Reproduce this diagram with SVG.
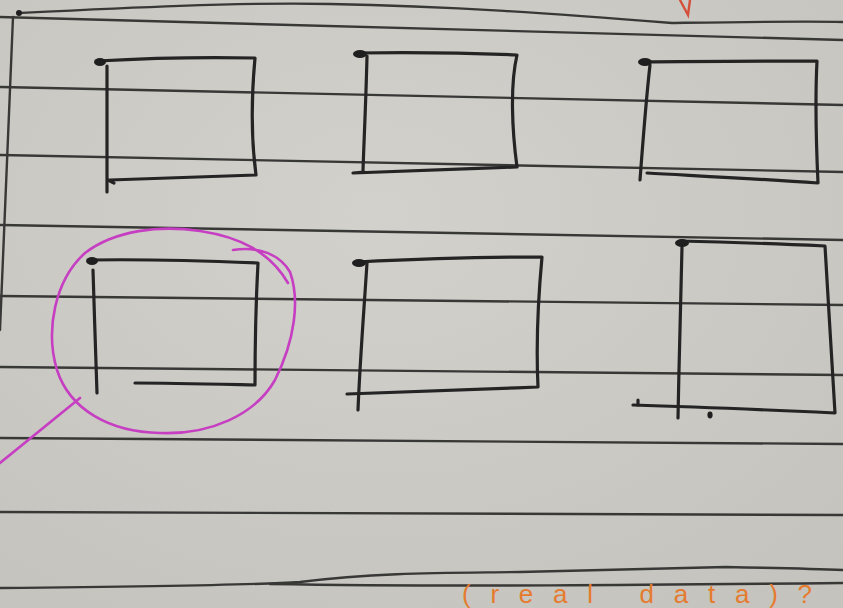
<svg xmlns="http://www.w3.org/2000/svg" width="843" height="608" viewBox="0 0 843 608">
<style>
.rule{fill:none;stroke:#383837;stroke-width:2.4;stroke-linecap:round}
.ink{fill:none;stroke:#242424;stroke-width:3.2;stroke-linecap:round;stroke-linejoin:round}
.blob{fill:#1f1f1f}
.mag{fill:none;stroke:#c63fc2;stroke-width:2.6;stroke-linecap:round}
.orange{font-family:"Liberation Sans",Arial,sans-serif;font-size:26px;fill:#e57b2e}
</style>
<defs>
<radialGradient id="paper" cx="0.45" cy="0.35" r="0.8">
<stop offset="0" stop-color="#d3d1cc"/>
<stop offset="1" stop-color="#c5c3be"/>
</radialGradient>
</defs>
<rect width="843" height="608" fill="url(#paper)"/>

<g id="ruled-lines">
<path class="rule" d="M19,13 C120,8 240,2 330,4 C450,6 560,14 672,23 C740,22 800,21 843,22"/>
<circle cx="19" cy="13" r="3" class="blob"/>
<path class="rule" d="M0,17 C300,26 600,34 843,40"/>
<path class="rule" d="M13,17 L0,330"/>
<path class="rule" d="M0,87 C300,91 600,100 843,105"/>
<path class="rule" d="M0,155 C300,159 600,166 843,172"/>
<path class="rule" d="M0,225 C300,228 600,235 843,240"/>
<path class="rule" d="M0,296 C300,298 600,302 843,305"/>
<path class="rule" d="M0,367 C300,369 600,372 843,375"/>
<path class="rule" d="M0,438 C300,441 600,443 843,444"/>
<path class="rule" d="M0,512 C300,513 600,514 843,515"/>
<path class="rule" d="M0,588 C200,586 270,584 300,582 C380,572 450,573 520,572 C620,569 700,567 726,567 C780,568 820,569 843,570"/>
<path class="rule" d="M270,584 C450,587 650,585 843,583"/>
</g>

<g id="box-1">
<path class="ink" d="M97,61 C150,58 210,57 255,58 C252,90 250,130 256,175 C200,177 150,179 110,180"/>
<path class="ink" d="M107,66 L107,192"/>
<path class="ink" d="M108,180 L114,183"/>
<ellipse class="blob" cx="100" cy="62" rx="6" ry="4"/>
</g>

<g id="box-2">
<path class="ink" d="M357,53 C420,52 470,53 517,55 C510,85 512,130 517,167 C460,169 400,171 353,173 L364,172"/>
<path class="ink" d="M367,56 C366,100 364,140 363,170"/>
<ellipse class="blob" cx="360" cy="54" rx="7" ry="4"/>
</g>

<g id="box-3">
<path class="ink" d="M643,62 C700,61 760,61 817,61 C815,100 816,140 818,183 C760,179 700,176 647,173"/>
<path class="ink" d="M650,65 C646,100 643,140 640,180"/>
<ellipse class="blob" cx="645" cy="62" rx="7" ry="4"/>
</g>

<g id="box-4">
<path class="ink" d="M90,260 C150,259 210,261 258,263 C256,300 255,345 255,385 C210,384 170,383 135,383"/>
<path class="ink" d="M93,270 C94,310 96,355 97,393"/>
<ellipse class="blob" cx="92" cy="261" rx="6" ry="4"/>
</g>

<g id="highlight">
<path class="mag" d="M233,250 C260,246 280,255 290,272 C300,300 295,340 275,380 C255,415 210,435 160,433 C110,432 70,410 57,370 C45,330 55,280 85,253 C115,230 160,225 200,231 C240,237 270,252 288,283"/>
<path class="mag" d="M80,398 L0,463"/>
</g>

<g id="box-5">
<path class="ink" d="M357,262 C420,259 480,257 542,257 C538,300 536,345 538,387 C470,390 400,392 347,394"/>
<path class="ink" d="M367,263 C364,310 360,360 358,410"/>
<ellipse class="blob" cx="359" cy="263" rx="7" ry="4"/>
</g>

<g id="box-6">
<path class="ink" d="M680,241 C730,242 780,244 825,246 C828,300 832,360 835,413 C770,410 700,407 633,405"/>
<path class="ink" d="M682,247 C681,300 679,360 678,418"/>
<path class="ink" d="M638,400 L638,405"/>
<ellipse class="blob" cx="682" cy="243" rx="7" ry="4"/>
<ellipse class="blob" cx="710" cy="415" rx="2.6" ry="3.4"/>
</g>

<g id="annotations">
<path d="M680,0 L688,15 L690,0" fill="none" stroke="#d4503a" stroke-width="2.4" stroke-linecap="round"/>
<text class="orange" x="462" y="603" textLength="350" lengthAdjust="spacing">(real data)?</text>
</g>
</svg>
